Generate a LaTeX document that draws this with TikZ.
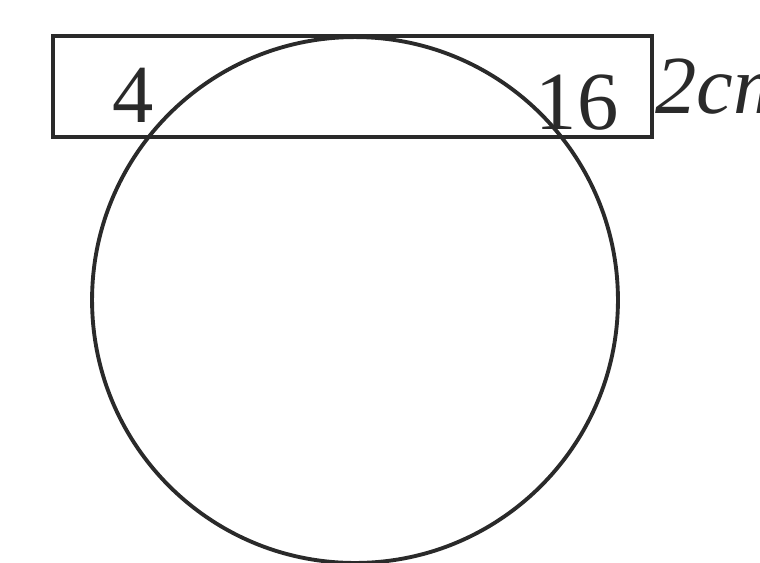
\documentclass[tikz,border=0pt]{standalone}
\usepackage{fontspec}
\setmainfont{Liberation Serif}
\definecolor{inkGray}{HTML}{2A2A2A}
\tikzset{
  outline/.style={draw=inkGray, line width=2.2pt},
  numlabel/.style={font=\fontsize{47}{50}\selectfont, text=inkGray, inner sep=0pt}
}
\begin{document}
\begin{tikzpicture}[x=0.02cm,y=-0.02cm]
  \useasboundingbox (0,0) rectangle (760,562);
  \clip (0,0) rectangle (760,562);
  % strip and disc
  \draw[outline] (53,36) rectangle (652,137);
  \draw[outline] (355,300) circle[radius=5.26cm];
  % labels
  \node[numlabel, anchor=base] (left) at (133,122) {4};
  \node[numlabel, anchor=base] (right) at (577,129) {16};
  \node[numlabel, anchor=base west] (width) at (655,113) {\textit{2cm}};
\end{tikzpicture}
\end{document}
